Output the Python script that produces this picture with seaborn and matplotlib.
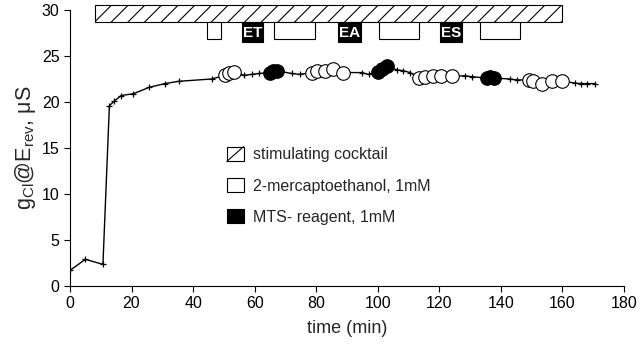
import matplotlib
matplotlib.use("Agg")
import matplotlib.pyplot as plt
import seaborn as sns
import pandas as pd
from matplotlib.patches import Rectangle, Patch
from matplotlib.lines import Line2D
from matplotlib.legend_handler import HandlerPatch

# ---- data ----
t_plus = [0, 5, 10.7, 12.8, 14.4, 16.6, 20.6, 25.8, 30.8, 35.3, 46,
          56.5, 59, 61.5, 72, 74.7, 94.8, 97, 106.1, 108.3, 110.5,
          128.3, 130.5, 143, 145.1, 164.1, 165.9, 168.1, 170.6]
g_plus = [1.7, 2.9, 2.35, 19.6, 20.1, 20.7, 20.9, 21.6, 22.0, 22.25, 22.5,
          22.9, 23.0, 23.1, 23.1, 23.0, 23.2, 23.0, 23.5, 23.4, 23.2,
          22.85, 22.75, 22.5, 22.4, 22.05, 22.0, 22.0, 22.0]
t_white = [50.4, 51.7, 53.3, 78.5, 80.1, 82.8, 85.5, 88.8,
           113.5, 115.3, 118.0, 120.7, 124.0, 149.2, 150.5, 153.2, 156.5, 159.7]
g_white = [22.9, 23.1, 23.3, 23.2, 23.4, 23.4, 23.6, 23.2,
           22.6, 22.7, 22.8, 22.8, 22.8, 22.4, 22.3, 22.0, 22.3, 22.3]
t_black = [65.0, 66.0, 67.1, 100.0, 101.5, 103.0, 135.5, 136.5, 137.7]
g_black = [23.2, 23.4, 23.4, 23.3, 23.6, 23.9, 22.6, 22.7, 22.6]

cocktail_span = (8.0, 160.0)
bme_starts = [44.4, 66.2, 100.4, 133.1]
bme_ends = [49.1, 79.5, 113.4, 146.2]
mts_labels = ["ET", "EA", "ES"]
mts_starts = [55.8, 87.0, 120.2]
mts_ends = [62.8, 94.7, 127.5]

legend_labels = ["stimulating cocktail", "2-mercaptoethanol, 1mM", "MTS- reagent, 1mM"]

# ---- style ----
sns.set_theme(style="ticks")
plt.rcParams['font.family'] = ['Liberation Sans', 'DejaVu Sans']
plt.rcParams['mathtext.default'] = 'regular'
plt.rcParams['hatch.linewidth'] = 0.8

fig = plt.figure(figsize=(6.4, 3.54), dpi=100)
ax = fig.add_axes([70/640, 1-286/354, 554/640, 276/354])

df_all = pd.DataFrame({
    "time": t_plus + t_white + t_black,
    "g": g_plus + g_white + g_black,
}).sort_values("time")
sns.lineplot(data=df_all, x="time", y="g", estimator=None, sort=True,
             color="black", linewidth=1.0, ax=ax, zorder=2)
df_plus = pd.DataFrame({"time": t_plus, "g": g_plus})
sns.scatterplot(data=df_plus, x="time", y="g", marker="+", s=18,
                color="black", linewidth=0.9, ax=ax, zorder=3)
df_w = pd.DataFrame({"time": t_white, "g": g_white})
sns.scatterplot(data=df_w, x="time", y="g", marker="o", s=95,
                facecolor="white", edgecolor="black", linewidth=0.8, ax=ax, zorder=4)
df_b = pd.DataFrame({"time": t_black, "g": g_black})
sns.scatterplot(data=df_b, x="time", y="g", marker="o", s=95,
                facecolor="black", edgecolor="black", linewidth=0.8, ax=ax, zorder=5)

# treatment bars
ax.add_patch(Rectangle((cocktail_span[0], 28.7), cocktail_span[1]-cocktail_span[0], 1.8,
                       facecolor="white", edgecolor="black", hatch="//",
                       linewidth=0.8, clip_on=False, zorder=6))
for s, e in zip(bme_starts, bme_ends):
    ax.add_patch(Rectangle((s, 26.9), e-s, 1.8, facecolor="white",
                           edgecolor="black", linewidth=0.8, clip_on=False, zorder=6))
for lab, s, e in zip(mts_labels, mts_starts, mts_ends):
    ax.add_patch(Rectangle((s, 26.5), e-s, 2.2, facecolor="black",
                           edgecolor="black", linewidth=0.8, clip_on=False, zorder=6))
    ax.text((s+e)/2, 27.55, lab, color="white", fontweight="bold", fontsize=11,
            ha="center", va="center", zorder=7)

ax.set_xlim(0, 180)
ax.set_ylim(0, 30)
ax.set_xticks(range(0, 181, 20))
ax.set_yticks(range(0, 31, 5))
ax.tick_params(labelsize=11.5, length=4, width=0.8, colors="black")
for sp in ["top", "right"]:
    ax.spines[sp].set_visible(False)
for sp in ["left", "bottom"]:
    ax.spines[sp].set_linewidth(0.8)
    ax.spines[sp].set_color("black")
ax.set_xlabel("time (min)", fontsize=13, labelpad=6)
ax.set_ylabel("g$_{Cl}$@E$_{rev}$, μS", fontsize=15.5, labelpad=3)


class DiagHandler(HandlerPatch):
    def create_artists(self, legend, orig_handle, xdescent, ydescent,
                       width, height, fontsize, trans):
        r = Rectangle((-xdescent, -ydescent), width, height, facecolor="white",
                      edgecolor="black", linewidth=0.8, transform=trans)
        ln = Line2D([-xdescent, -xdescent + width], [-ydescent, -ydescent + height],
                    color="black", linewidth=0.8, transform=trans)
        return [r, ln]


handles = [Patch(facecolor="white", edgecolor="black", hatch="/", linewidth=0.8),
           Patch(facecolor="white", edgecolor="black", linewidth=0.8),
           Patch(facecolor="black", edgecolor="black", linewidth=0.8)]
ax.legend(handles, legend_labels, loc="upper left", bbox_to_anchor=(0.283, 0.505),
          frameon=False, fontsize=11.5, handlelength=1.05, handleheight=1.05,
          handletextpad=0.6, labelspacing=0.95, borderpad=0, borderaxespad=0,
          handler_map={handles[0]: DiagHandler()})

fig.savefig("out.png", dpi=100)
